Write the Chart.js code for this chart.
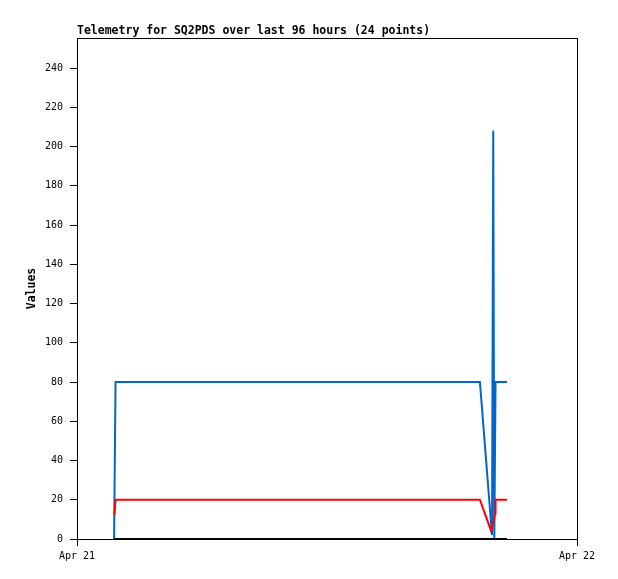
<!DOCTYPE html>
<html>
<head>
<meta charset="utf-8">
<script src="https://cdn.jsdelivr.net/npm/chart.js@4.4.0/dist/chart.umd.min.js"></script>
<style>
  html, body { margin: 0; padding: 0; background: #fff; }
  #wrap { width: 618px; height: 579px; }
</style>
</head>
<body>
<div id="wrap"><canvas id="telemetryChart" width="618" height="579"></canvas></div>
<script>
// hours since Apr 21 00:00
let blueTimes = [1.78, 1.85, 19.34, 19.92, 19.98, 20.03, 20.09, 20.64];
let blueValues = [0, 80, 80, 2, 208, 0, 80, 80];

let redTimes = [1.79, 1.85, 19.34, 19.88, 20.07, 20.09, 20.64];
let redValues = [12, 20, 20, 4, 13, 20, 20];

let blackTimes = [1.78, 20.64];
let blackValues = [0, 0];

let xTickValues = [0, 24];
let xTickLabels = ['Apr 21', 'Apr 22'];
let yMax = 255.3;

const monoFont = "'DejaVu Sans Mono', 'Liberation Mono', monospace";

function toPoints(times, values) {
    return times.map((t, i) => ({ x: t, y: values[i] }));
}

// frame + title drawn on top of the canvas
const framePlugin = {
    id: 'frame',
    afterDraw(chart) {
        let ctx = chart.ctx;
        let a = chart.chartArea;
        ctx.save();
        ctx.strokeStyle = '#000';
        ctx.lineWidth = 1;
        ctx.strokeRect(a.left + 0.5, a.top + 0.5, a.right - a.left, a.bottom - a.top);
        ctx.fillStyle = '#000';
        ctx.font = 'bold 11.5px ' + monoFont;
        ctx.textAlign = 'left';
        ctx.textBaseline = 'middle';
        ctx.fillText('Telemetry for SQ2PDS over last 96 hours (24 points)', a.left, 31);
        ctx.restore();
    }
};

let ctx = document.getElementById('telemetryChart').getContext('2d');
let chart = new Chart(ctx, {
    type: 'line',
    data: {
        datasets: [{
            label: 'black',
            data: toPoints(blackTimes, blackValues),
            borderColor: '#000000',
            borderWidth: 2,
            pointRadius: 0,
            fill: false
        }, {
            label: 'red',
            data: toPoints(redTimes, redValues),
            borderColor: '#ff0000',
            borderWidth: 2,
            pointRadius: 0,
            fill: false
        }, {
            label: 'blue',
            data: toPoints(blueTimes, blueValues),
            borderColor: '#0066cc',
            borderWidth: 2,
            pointRadius: 0,
            fill: false
        }]
    },
    options: {
        responsive: false,
        animation: false,
        devicePixelRatio: 1,
        layout: { padding: { top: 38, right: 41, left: 0, bottom: 0 } },
        plugins: {
            legend: { display: false },
            tooltip: { enabled: false },
            title: { display: false }
        },
        elements: { line: { tension: 0 } },
        scales: {
            x: {
                type: 'linear',
                min: 0,
                max: 24,
                afterBuildTicks: function (scale) {
                    scale.ticks = xTickValues.map(v => ({ value: v }));
                },
                afterFit: function (scale) { scale.height = 40; },
                grid: {
                    drawOnChartArea: false,
                    drawTicks: true,
                    tickLength: 7,
                    color: '#000'
                },
                border: { display: true, color: '#000', width: 1 },
                ticks: {
                    autoSkip: false,
                    maxRotation: 0,
                    padding: 4,
                    color: '#000',
                    font: { family: monoFont, size: 10 },
                    callback: function (value) {
                        let i = xTickValues.indexOf(value);
                        return i >= 0 ? xTickLabels[i] : '';
                    }
                }
            },
            y: {
                min: 0,
                max: yMax,
                afterFit: function (scale) { scale.width = 77; },
                grid: {
                    drawOnChartArea: false,
                    drawTicks: true,
                    tickLength: 7,
                    color: '#000'
                },
                border: { display: true, color: '#000', width: 1 },
                ticks: {
                    stepSize: 20,
                    includeBounds: false,
                    padding: 7,
                    color: '#000',
                    font: { family: monoFont, size: 10 }
                },
                title: {
                    display: true,
                    text: 'Values',
                    color: '#000',
                    padding: { top: 25, bottom: 0 },
                    font: { family: monoFont, size: 11.5, weight: 'bold' }
                }
            }
        }
    },
    plugins: [framePlugin]
});
</script>
</body>
</html>
